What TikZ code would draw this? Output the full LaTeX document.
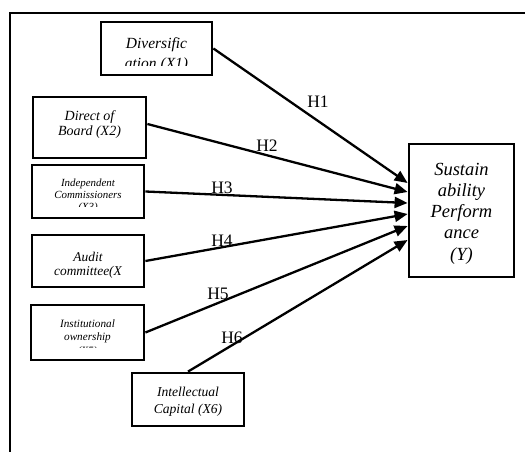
\documentclass[tikz,border=0pt]{standalone}
\usepackage{fontspec}
\setmainfont{Liberation Serif}
\usetikzlibrary{arrows.meta}
\begin{document}
\begin{tikzpicture}[x=1pt,y=-1pt,
 box/.style={draw, line width=2.8pt, inner sep=0pt},
 conn/.style={line width=2.3pt, -{Triangle[length=13pt,width=11pt]}},
 lbl/.style={font=\fontsize{17.5}{20}\selectfont, inner sep=0pt},
 txt/.style={anchor=base, inner sep=0pt}]
\useasboundingbox (0,0) rectangle (525,452);
\draw[line width=2.2pt] (525,13) -- (10,13) -- (10,452);

% boxes
\node[box, minimum width=111pt, minimum height=53pt] (x1) at (156.5,48.5) {};
\node[box, minimum width=113pt, minimum height=61pt] (x2) at (89.5,127.5) {};
\node[box, minimum width=112pt, minimum height=53pt] (x3) at (88,191.5) {};
\node[box, minimum width=112pt, minimum height=52pt] (x4) at (88,261) {};
\node[box, minimum width=113pt, minimum height=55pt] (x5) at (87.5,332.5) {};
\node[box, minimum width=112pt, minimum height=53pt] (x6) at (188,399.5) {};
\node[box, minimum width=105pt, minimum height=133pt] (y) at (461.5,210.5) {};

% texts
\begin{scope}[font=\itshape\fontsize{15.5}{19}\selectfont]
\clip (103,24) rectangle (210,66);
\node[txt] (x1a) at (156.5,49) {Diversific};
\node[txt] (x1b) at (156.5,69) {ation (X1)};
\end{scope}
\begin{scope}[font=\itshape\fontsize{14}{16}\selectfont]
\node[txt] (x2a) at (89.5,121) {Direct of};
\node[txt] (x2b) at (89.5,135) {Board (X2)};
\end{scope}
\begin{scope}[font=\itshape\fontsize{10.9}{12}\selectfont]
\clip (34,167) rectangle (142,206);
\node[txt] (x3a) at (88,186) {Independent};
\node[txt] (x3b) at (88,198) {Commissioners};
\node[txt] (x3c) at (88,210) {(X3)};
\end{scope}
\begin{scope}[font=\itshape\fontsize{13.4}{16}\selectfont]
\node[txt] (x4a) at (88,261) {Audit};
\node[txt] (x4b) at (88,275) {committee(X};
\end{scope}
\begin{scope}[font=\itshape\fontsize{11.2}{13}\selectfont]
\clip (33,307) rectangle (142,347.5);
\node[txt] (x5a) at (87.5,327) {Institutional};
\node[txt] (x5b) at (87.5,340) {ownership};
\node[txt] (x5c) at (87.5,354) {(X5)};
\end{scope}
\begin{scope}[font=\itshape\fontsize{13.6}{16}\selectfont]
\node[txt] (x6a) at (188,396) {Intellectual};
\node[txt] (x6b) at (188,413) {Capital (X6)};
\end{scope}
\begin{scope}[font=\itshape\fontsize{18.5}{21}\selectfont]
\node[txt] (ya) at (461.5,175) {Sustain};
\node[txt] (yb) at (461.5,196) {ability};
\node[txt] (yc) at (461.5,217) {Perform};
\node[txt] (yd) at (461.5,238) {ance};
\node[txt] (ye) at (461.5,260) {(Y)};
\end{scope}

% connectors
\draw[conn] (x1.east) -- ([yshift=27.5pt]y.west);
\draw[conn] ([yshift=3.5pt]x2.east) -- ([yshift=18.5pt]y.west);
\draw[conn] (x3.east) -- ([yshift=7.5pt]y.west);
\draw[conn] (x4.east) -- ([yshift=-3.5pt]y.west);
\draw[conn] (x5.east) -- ([yshift=-15.5pt]y.west);
\draw[conn] (x6.north) -- ([yshift=-29.5pt]y.west);

% labels
\node[lbl] (h1) at (318,102) {H1};
\node[lbl] (h2) at (267,146) {H2};
\node[lbl] (h3) at (222,188) {H3};
\node[lbl] (h4) at (222,241) {H4};
\node[lbl] (h5) at (218,294) {H5};
\node[lbl] (h6) at (232,338) {H6};
\end{tikzpicture}
\end{document}
